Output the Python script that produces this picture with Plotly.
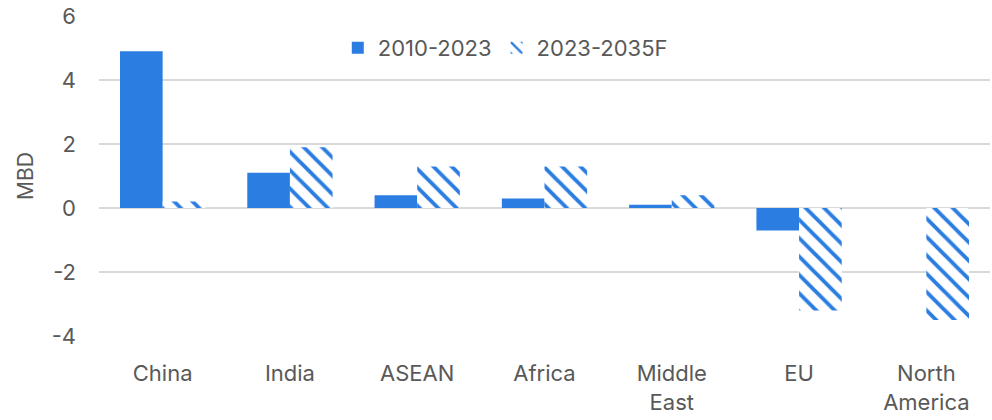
import plotly.graph_objects as go

categories = ["China", "India", "ASEAN", "Africa", "Middle<br>East", "EU", "North<br>America"]
hist_2010_2023 = [4.9, 1.1, 0.4, 0.3, 0.1, -0.7, 0.0]
fcst_2023_2035 = [0.2, 1.9, 1.3, 1.3, 0.4, -3.2, -3.5]
y_ticks = [-4, -2, 0, 2, 4, 6]
y_tick_labels = ["-4", "-2", "0", "2", "4", "6"]

BLUE = "#2B7DE1"
GREY = "#595959"
FONT = "Inter, Roboto, sans-serif"

fig = go.Figure()
fig.add_trace(go.Bar(
    x=categories, y=hist_2010_2023, name="2010-2023",
    marker=dict(color=BLUE, line=dict(width=0)),
))
fig.add_trace(go.Bar(
    x=categories, y=fcst_2023_2035, name="2023-2035F",
    marker=dict(color="white", line=dict(width=0),
                pattern=dict(shape="\\", fgcolor=BLUE, bgcolor="white",
                             size=13, solidity=0.3, fillmode="replace")),
))

fig.update_layout(
    width=992, height=420,
    margin=dict(l=99, r=2, t=16, b=84, autoexpand=False),
    paper_bgcolor="white", plot_bgcolor="white",
    barmode="group", bargap=0.33, bargroupgap=0,
    font=dict(family=FONT, size=22, color=GREY),
    showlegend=True,
    legend=dict(orientation="h", x=0.268, xanchor="left", y=0.9, yanchor="middle",
                font=dict(size=22, color=GREY), bgcolor="rgba(0,0,0,0)",
                itemwidth=30, traceorder="normal"),
    xaxis=dict(showgrid=False, zeroline=False, showline=False, ticks="",
               automargin=False, ticklabelstandoff=22,
               tickfont=dict(size=22, color=GREY)),
    yaxis=dict(range=[-4, 6], tickvals=y_ticks, ticktext=y_tick_labels,
               showgrid=True, gridcolor="#D9D9D9",
               gridwidth=2, zeroline=True, zerolinecolor="#D9D9D9", zerolinewidth=2,
               showline=False, ticks="", ticklabelstandoff=22, automargin=False,
               tickfont=dict(size=22, color=GREY),
               title=dict(text="MBD", font=dict(size=21, color=GREY), standoff=12)),
)

fig.write_html("out.html", config={"displayModeBar": False},
               post_script="document.body.style.margin='0';")
